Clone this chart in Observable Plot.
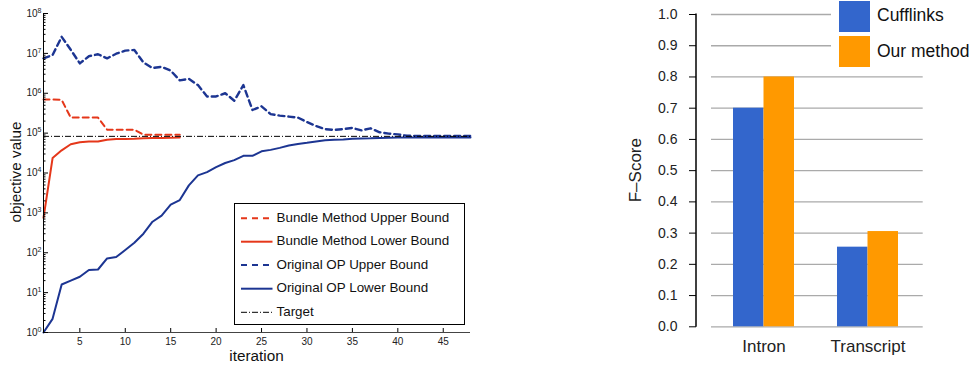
<!DOCTYPE html>
<html>
<head>
<meta charset="utf-8">
<script src="https://cdn.jsdelivr.net/npm/d3@7"></script>
<script src="https://cdn.jsdelivr.net/npm/@observablehq/plot@0.6"></script>
<style>
  body { margin: 0; background: #fff; font-family: "Liberation Sans", Arial, Helvetica, sans-serif; }
  #wrap { position: relative; width: 971px; height: 365px; overflow: hidden; background: #fff; }
  #left, #right { position: absolute; top: 0; }
  #left { left: 0; }
  #right { left: 600px; }
  #legend2 { position: absolute; left: 831px; top: 0; width: 140px; height: 70px; background: #fff; }
  .sw { position: absolute; left: 8px; width: 31px; height: 31px; }
  .lb { position: absolute; left: 46px; font-size: 17.5px; color: #111; white-space: nowrap; line-height: 20px; }
</style>
</head>
<body>
<div id="wrap">
  <div id="left"></div>
  <div id="right"></div>
  <div id="legend2"></div>
</div>
<script>
// ---------- Left chart data ----------
const iterations = [1,2,3,4,5,6,7,8,9,10,11,12,13,14,15,16,17,18,19,20,21,22,23,24,25,26,27,28,29,30,31,32,33,34,35,36,37,38,39,40,41,42,43,44,45,46,47,48];
const bundleUpper = [7.0e5,7.0e5,6.8e5,2.45e5,2.45e5,2.45e5,2.45e5,1.22e5,1.22e5,1.22e5,1.22e5,9.1e4,9.1e4,9.1e4,9.1e4,9.1e4];
const bundleLower = [750,23700,37000,52500,59000,61700,61700,68400,70800,71600,72400,74100,75000,75900,76700,77600];
const origUpper = [7.5e6,9.1e6,2.6e7,1.23e7,5.6e6,8.5e6,9.5e6,7.5e6,9.8e6,1.17e7,1.22e7,5.9e6,4.3e6,4.6e6,3.7e6,2.1e6,
  2.3e6,1.6e6,8.3e5,8.3e5,1.0e6,6.5e5,1.6e6,3.8e5,4.7e5,3.0e5,2.75e5,2.6e5,2.45e5,1.9e5,1.5e5,1.26e5,
  1.2e5,1.26e5,1.35e5,1.17e5,1.32e5,1.05e5,9.7e4,9.3e4,8.6e4,8.5e4,8.5e4,8.5e4,8.5e4,8.5e4,8.5e4,8.5e4];
const origLower = [1,2.2,16,20,25,37,38,72,78,117,178,300,600,850,1600,2100,
  4900,8700,10500,14000,17800,21000,27000,27000,35000,38000,42700,49000,53700,57000,61700,66000,
  68400,69000,72400,73300,74000,75900,76700,77600,77600,77600,77600,77600,77600,77600,77600,77600];
const targetValue = 8.3e4;
const seriesNames = ["Bundle Method Upper Bound","Bundle Method Lower Bound","Original OP Upper Bound","Original OP Lower Bound","Target"];
const yMajorTicks = [1,1e1,1e2,1e3,1e4,1e5,1e6,1e7,1e8];
const xTicks = [5,10,15,20,25,30,35,40,45];

// ---------- Right chart data ----------
const categories = ["Intron","Transcript"];
const methods = ["Cufflinks","Our method"];
const cufflinks = [0.70, 0.255];
const ourMethod = [0.80, 0.305];
const fTicks = [0,0.1,0.2,0.3,0.4,0.5,0.6,0.7,0.8,0.9,1.0];

const RED = "#e5371a";
const BLUE = "#1c3592";
const FONT = '"Liberation Sans", Arial, Helvetica, sans-serif';

const rows = (vals) => vals.map((v, i) => ({it: iterations[i], v}));
const yMinorTicks = [];
for (let k = 0; k < 8; k++) for (let m = 2; m <= 9; m++) yMinorTicks.push(m * Math.pow(10, k));

const left = Plot.plot({
  width: 480, height: 365,
  marginLeft: 43, marginRight: 10, marginTop: 13, marginBottom: 33,
  style: {fontFamily: FONT, fontSize: "10px", color: "#222", background: "transparent", overflow: "visible"},
  x: {type: "linear", domain: [1, 48], axis: null},
  y: {type: "log", domain: [1, 1e8], axis: null},
  marks: [
    Plot.line(rows(origLower), {x: "it", y: "v", stroke: BLUE, strokeWidth: 2}),
    Plot.line(rows(origUpper), {x: "it", y: "v", stroke: BLUE, strokeWidth: 2.4, strokeDasharray: "6,4"}),
    Plot.line(rows(bundleLower), {x: "it", y: "v", stroke: RED, strokeWidth: 2}),
    Plot.line(rows(bundleUpper), {x: "it", y: "v", stroke: RED, strokeWidth: 2, strokeDasharray: "6,4"}),
    Plot.ruleY([targetValue], {stroke: "#000", strokeWidth: 1, strokeDasharray: "6,2,1,2"}),
    Plot.ruleX([1], {stroke: "#000", strokeWidth: 1}),
    Plot.ruleY([1], {stroke: "#444", strokeWidth: 1}),
    Plot.axisY({ticks: yMinorTicks, tickSize: -2.5, tickFormat: () => "", stroke: "#000", label: null}),
    Plot.axisY({ticks: yMajorTicks, tickSize: -5, tickPadding: 7, stroke: "#000", label: null,
      tickFormat: d => String(Math.round(Math.log10(d)))}),
    Plot.axisX({ticks: xTicks, tickSize: -4, tickPadding: 9, stroke: "#000", label: null})
  ]
});
document.getElementById("left").appendChild(left);

// superscript exponents on log tick labels
{
  const svg = d3.select(left);
  svg.selectAll('g[aria-label="y-axis tick label"] text').each(function() {
    const t = d3.select(this);
    const e = t.text();
    if (e === "") return;
    t.text("10");
    t.append("tspan").attr("dy", "-0.55em").attr("font-size", "7px").text(e);
  });
  // axis titles
  svg.append("text").attr("transform", "translate(17,172) rotate(-90)")
    .attr("text-anchor", "middle").attr("dominant-baseline", "middle")
    .attr("font-size", "15.3px").attr("fill", "#111").text("objective value");
  svg.append("text").attr("x", 256.5).attr("y", 361)
    .attr("text-anchor", "middle").attr("font-size", "15.3px").attr("fill", "#111").text("iteration");
  // legend
  const lg = svg.append("g").attr("text-anchor", "start");
  lg.append("rect").attr("x", 234.5).attr("y", 203.5).attr("width", 230).attr("height", 121)
    .attr("fill", "#fff").attr("stroke", "#000").attr("stroke-width", 1);
  const styles = [
    {stroke: RED, dash: "6,5", w: 2},
    {stroke: RED, dash: null, w: 2},
    {stroke: BLUE, dash: "6,5", w: 2.2},
    {stroke: BLUE, dash: null, w: 2},
    {stroke: "#000", dash: "6,2,1,2", w: 1}
  ];
  const rowY = [218.3, 241.7, 265, 288.7, 312.3];
  seriesNames.forEach((name, i) => {
    const s = styles[i];
    const ln = lg.append("line").attr("x1", 241).attr("x2", 272.5).attr("y1", rowY[i]).attr("y2", rowY[i])
      .attr("stroke", s.stroke).attr("stroke-width", s.w);
    if (s.dash) ln.attr("stroke-dasharray", s.dash);
    lg.append("text").attr("x", 276.5).attr("y", rowY[i]).attr("dominant-baseline", "middle")
      .attr("text-anchor", "start")
      .attr("font-size", "13.4px").attr("fill", "#111").text(name);
  });
}

// ---------- Right chart ----------
const barData = categories.flatMap((c, i) => [
  {category: c, method: methods[0], value: cufflinks[i]},
  {category: c, method: methods[1], value: ourMethod[i]}
]);
const COLORS = ["#3366cc", "#ff9900"];

const right = Plot.plot({
  width: 371, height: 365,
  marginLeft: 111, marginRight: 48.3, marginTop: 14, marginBottom: 38.7,
  style: {fontFamily: FONT, fontSize: "14px", color: "#222", background: "transparent", overflow: "visible"},
  x: {type: "band", domain: categories, paddingInner: 0.416, paddingOuter: 0.221, align: 0.476, axis: null},
  y: {domain: [0, 1], axis: null},
  color: {domain: methods, range: COLORS},
  marks: [
    Plot.gridY({ticks: fTicks, stroke: "#aaa", strokeOpacity: 1, strokeWidth: 1.3}),
    Plot.barY(barData.filter(d => d.method === methods[0]), {x: "category", y: "value", fill: "method", insetRight: 30.5}),
    Plot.barY(barData.filter(d => d.method === methods[1]), {x: "category", y: "value", fill: "method", insetLeft: 30.5}),
    Plot.axisY({ticks: fTicks, dx: -15, tickSize: 7, tickPadding: 12, stroke: "#000", label: null, tickFormat: d3.format(".1f")}),
    Plot.axisX({tickSize: 0, tickPadding: 13, fontSize: 17, label: null})
  ]
});
document.getElementById("right").appendChild(right);
{
  const svg = d3.select(right);
  const y = right.scale("y");
  svg.append("line").attr("x1", 96).attr("x2", 96)
    .attr("y1", y.apply(1) - 0.5).attr("y2", y.apply(0) + 0.5)
    .attr("stroke", "#000").attr("stroke-width", 1.5);
  svg.append("text").attr("transform", `translate(37,${(y.apply(1) + y.apply(0)) / 2}) rotate(-90)`)
    .attr("text-anchor", "middle").attr("dominant-baseline", "middle")
    .attr("font-size", "17px").attr("fill", "#222").text("F–Score");
}

// right legend
{
  const lg = document.getElementById("legend2");
  methods.forEach((m, i) => {
    const sw = document.createElement("div");
    sw.className = "sw";
    sw.style.top = (1 + i * 35) + "px";
    sw.style.background = COLORS[i];
    lg.appendChild(sw);
    const lb = document.createElement("div");
    lb.className = "lb";
    lb.style.top = (5 + i * 36) + "px";
    lb.textContent = m;
    lg.appendChild(lb);
  });
}
</script>
</body>
</html>
